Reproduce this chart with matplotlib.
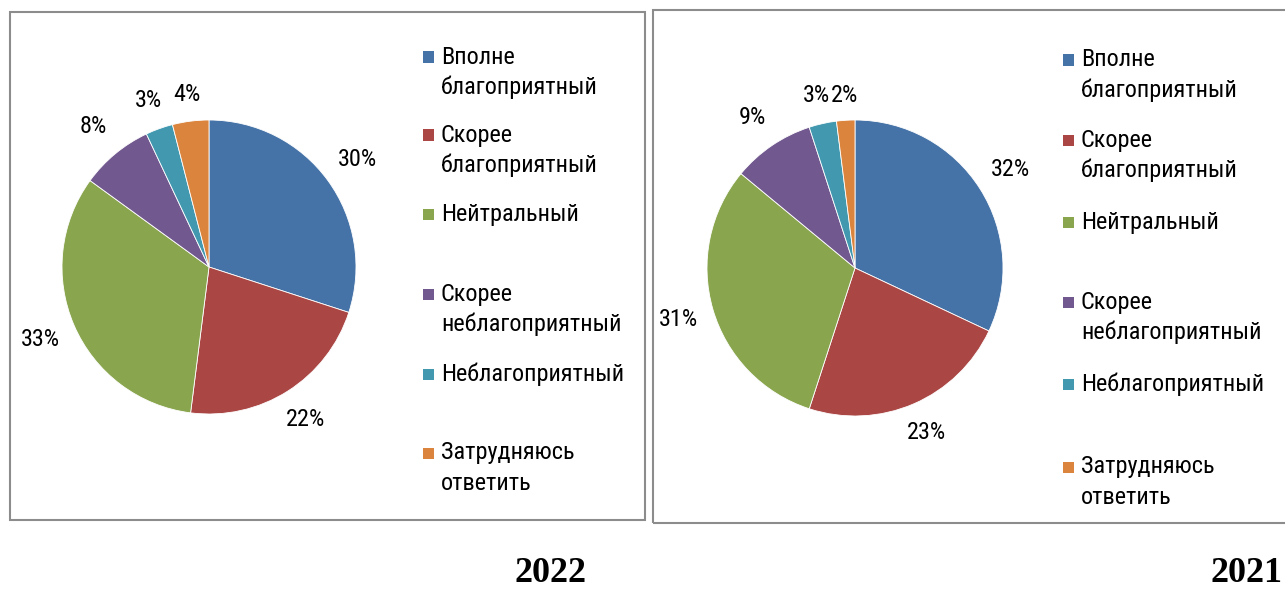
import matplotlib
matplotlib.use("Agg")
import numpy as np
import matplotlib.pyplot as plt
from matplotlib.patches import Rectangle

W, H = 1285, 590

categories = ["Вполне\nблагоприятный", "Скорее\nблагоприятный", "Нейтральный",
              "Скорее\nнеблагоприятный", "Неблагоприятный", "Затрудняюсь\nответить"]
values_2022 = [30, 22, 33, 8, 3, 4]
values_2021 = [32, 23, 31, 9, 3, 2]
years = ["2022", "2021"]
colors = ["#4573A7", "#AA4644", "#89A54E", "#71588F", "#4198AF", "#DB843D"]

plt.rcParams['font.family'] = ['Roboto Condensed', 'Liberation Sans', 'DejaVu Sans']

fig = plt.figure(figsize=(W / 100, H / 100), dpi=100)
fig.patch.set_facecolor("white")

FS = 17.5


def fx(x):
    return x / W


def fy(y):
    return 1 - y / H


def panel(box, center, radius, values, leg_x, leg_ys, year, year_xy):
    x0, y0, x1, y1 = box
    fig.add_artist(Rectangle((fx(x0), fy(y1)), fx(x1) - fx(x0), fy(y0) - fy(y1),
                             transform=fig.transFigure, fill=False,
                             edgecolor="#8c8c8c", linewidth=1.5, clip_on=False))
    cx, cy = center
    ax = fig.add_axes([fx(cx - radius), fy(cy + radius), 2 * radius / W, 2 * radius / H])
    wedges, texts = ax.pie(values, colors=colors, startangle=90, counterclock=False,
                           labels=[f"{v}%" for v in values], labeldistance=1.27,
                           wedgeprops=dict(edgecolor="white", linewidth=0.6),
                           textprops=dict(fontsize=FS, color="black"))
    # place labels "outside end": fixed gap between arc and label box
    gap, half_w, half_h = 13.0, 21.0, 11.0
    for w, t in zip(wedges, texts):
        ang = np.deg2rad((w.theta1 + w.theta2) / 2)
        c, s = np.cos(ang), np.sin(ang)
        d = 1 + (gap + half_w * abs(c) + half_h * abs(s)) / radius
        t.set_position((d * c, d * s))
        t.set_ha("center")
        t.set_va("center")
        t.set_clip_on(False)
    ax.set_xlim(-1, 1)
    ax.set_ylim(-1, 1)
    ax.set_aspect("equal")
    ax.axis("off")

    sq = 11
    for cat, col, ly in zip(categories, colors, leg_ys):
        fig.add_artist(Rectangle((fx(leg_x - sq / 2), fy(ly + sq / 2)), sq / W, sq / H,
                                 transform=fig.transFigure, facecolor=col,
                                 edgecolor="none", clip_on=False))
        for i, line in enumerate(cat.split("\n")):
            fig.text(fx(leg_x + 13), fy(ly + 30 * i), line, fontsize=FS,
                     ha="left", va="center", color="black")

    fig.text(fx(year_xy[0]), fy(year_xy[1]), year, fontsize=26, fontweight="bold",
             family="Liberation Serif", ha="center", va="center", color="black")


panel((10, 12, 645, 520), (209, 267), 147, values_2022, 428,
      [57, 135, 214, 294, 374, 453], years[0], (551, 574))
panel((653, 10, 1295, 523), (855, 268), 148, values_2021, 1068,
      [60, 140, 222, 302, 384, 467], years[1], (1247, 574))

fig.savefig("out.png", dpi=100, facecolor="white")
